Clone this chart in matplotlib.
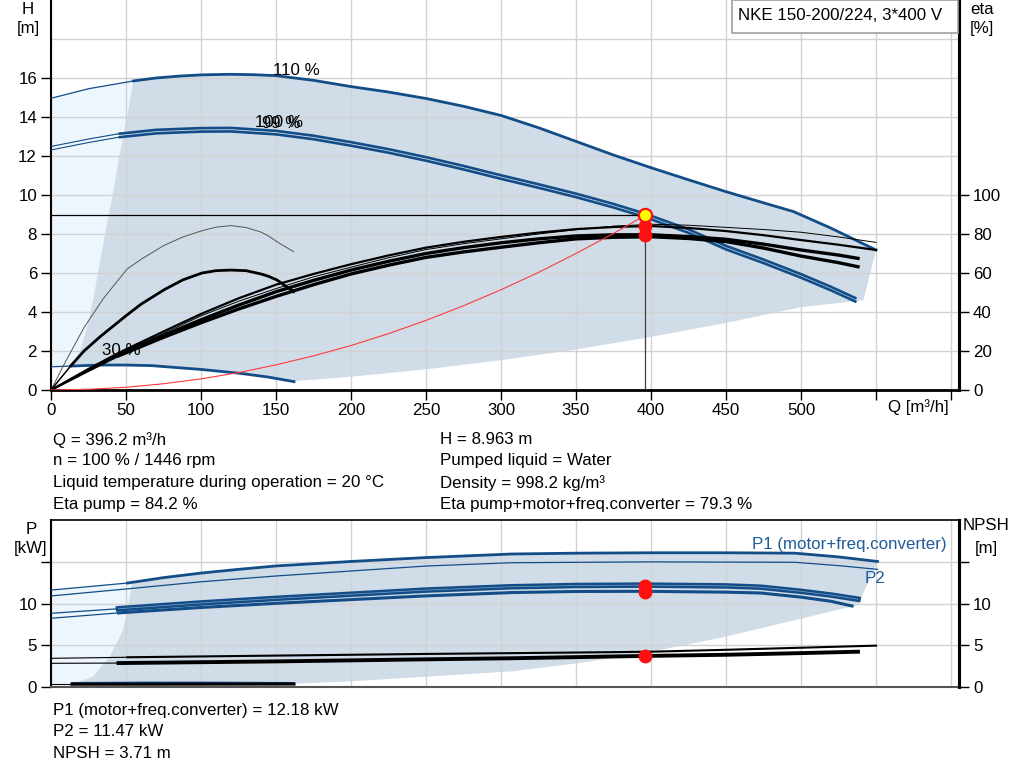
import matplotlib
matplotlib.use("Agg")
import matplotlib.pyplot as plt
from matplotlib.patches import Rectangle

plt.rcParams['font.family'] = ['Liberation Sans', 'DejaVu Sans']

# ---------------- data ----------------
# operating point
OP_Q, OP_H = 396.2, 8.963
ETA_PUMP, ETA_TOT = 84.2, 79.3
OP_P1, OP_P2, OP_NPSH = 12.18, 11.47, 3.71

# head curves (Q m3/h, H m)
H110_ext_Q = [0, 25, 55]
H110_ext_H = [14.96, 15.45, 15.85]
H110_Q = [55, 70, 86, 100, 119, 135, 150, 175, 200, 225, 250, 275, 300, 325, 350, 375,
          400, 425, 450, 475, 495, 520, 550]
H110_H = [15.85, 16.0, 16.1, 16.16, 16.19, 16.17, 16.12, 15.88, 15.56, 15.28, 14.95, 14.55,
          14.08, 13.45, 12.75, 12.05, 11.4, 10.78, 10.17, 9.6, 9.15, 8.3, 7.18]

H100_Q = [0, 25, 45, 70, 86, 100, 120, 150, 175, 200, 225, 250, 275, 300, 325, 350, 375,
          396.2, 425, 450, 475, 500, 520, 537]
H100a_H = [12.49, 12.87, 13.14, 13.34, 13.39, 13.43, 13.44, 13.29, 13.04, 12.71, 12.35, 11.94,
           11.49, 11.01, 10.55, 10.07, 9.54, 9.04, 8.24, 7.39, 6.69, 5.94, 5.29, 4.69]
H100b_H = [12.31, 12.69, 12.96, 13.16, 13.21, 13.25, 13.26, 13.11, 12.86, 12.53, 12.17, 11.76,
           11.31, 10.83, 10.37, 9.89, 9.36, 8.86, 8.06, 7.21, 6.51, 5.76, 5.11, 4.51]

H30_Q = [0, 14, 33, 50, 67, 100.7, 126.7, 145, 162]
H30_H = [1.19, 1.23, 1.28, 1.28, 1.25, 1.05, 0.85, 0.66, 0.43]

# shaded area boundaries (top panel)
SH_low_Q = [541.6, 500, 450, 400, 350, 300, 250, 200, 162]
SH_low_H = [4.6, 4.25, 3.44, 2.72, 2.08, 1.53, 1.06, 0.68, 0.45]
SH_left_Q = [13.8, 19.6, 24, 28, 32, 36, 41, 45.5, 50.6, 55]
SH_left_H = [1.2, 2.05, 3.2, 4.6, 6.3, 8.0, 10.0, 12.0, 14.0, 15.85]

# efficiency curves (eta %)
ETA_Q = [0, 25, 45, 75, 100, 125, 150, 175, 200, 225, 250, 275, 300, 325, 350, 375, 400,
         425, 450, 475, 500, 525, 550]
ETA1 = [0, 10.5, 18.5, 29, 38, 45.5, 52, 58, 63, 67.8, 72, 75, 77.5, 80, 82.2, 84, 85,
        84.5, 83.4, 82.3, 80.9, 78.5, 75.7]
ETA2 = [0, 10.8, 19, 30, 39, 47, 54, 59.5, 64.5, 69, 73, 76, 78.5, 80.7, 82.5, 83.6, 84.1,
        83.1, 81.5, 79.4, 76.9, 74.5, 71.8]
ETA_Q34 = [0, 25, 45, 75, 100, 125, 150, 175, 200, 225, 250, 275, 300, 325, 350, 375, 400,
           425, 450, 475, 500, 525, 538]
ETA3 = [0, 10.2, 18, 28, 36, 43.5, 50.4, 56.2, 61.5, 66, 70, 73, 75.5, 77.5, 79, 79.6, 79.6,
        78.7, 77.3, 74.8, 71.8, 69.2, 67.5]
ETA4 = [0, 9.8, 17.5, 27, 34.5, 41.5, 48, 54, 59.5, 64, 68, 70.8, 73.2, 75.5, 77.5, 78.3, 78.6,
        77.7, 76.1, 72.8, 68.7, 65.3, 63.2]

ETA30a_Q = [0, 10, 22, 35, 50.7, 60, 75, 88, 100.7, 110, 120, 130, 140, 145, 150.7, 161.8]
ETA30a = [0, 15, 32, 47, 62, 67, 74, 78.5, 81.7, 83.5, 84.3, 83.3, 81, 79, 76, 70.9]
ETA30b_Q = [0, 13.3, 22, 33, 50.7, 60, 75.6, 88, 100.7, 110, 120, 130, 140, 145, 150.7, 161.8]
ETA30b = [0, 12.5, 20, 27.5, 38.5, 44, 51.5, 56.5, 60, 61.2, 61.5, 61.2, 59.5, 58.3, 56.4, 50.4]

# system curve
SYS_Q = [0, 25, 50, 75, 100, 125, 150, 175, 200, 225, 250, 275, 300, 325, 350, 375, 396.2]
SYS_H = [0, 0.036, 0.14, 0.32, 0.57, 0.89, 1.29, 1.75, 2.28, 2.89, 3.57, 4.32, 5.14, 6.03,
         7.0, 8.03, 8.963]

# power curves (kW)
P1_110_ext_Q = [0, 51]
P1_110_ext = [11.65, 12.5]
P1_110_Q = [51, 75, 100, 125, 150, 200, 250, 307, 350, 400, 450, 496, 525, 551]
P1_110 = [12.5, 13.15, 13.7, 14.15, 14.56, 15.1, 15.57, 16.0, 16.1, 16.15, 16.15, 16.1, 15.65, 15.1]
P2_110_Q = [0, 51, 100, 150, 200, 250, 307, 400, 496, 525, 551]
P2_110 = [10.94, 11.8, 12.65, 13.35, 13.95, 14.55, 14.95, 15.05, 15.0, 14.6, 14.15]

P1_100_Q = [0, 45, 100, 150, 200, 250, 307, 350, 396.2, 450, 473, 500, 520, 538]
P1_100 = [8.85, 9.4, 10.1, 10.65, 11.15, 11.65, 12.05, 12.2, 12.25, 12.15, 12.0, 11.5, 11.05, 10.55]
P2_100_Q = [0, 45, 100, 150, 200, 250, 307, 350, 396.2, 450, 473, 500, 520, 534]
P2_100 = [8.25, 8.9, 9.55, 10.05, 10.5, 10.95, 11.35, 11.48, 11.5, 11.4, 11.3, 10.8, 10.3, 9.73]

P30_Q = [14, 60, 100, 162]
P1_30 = [0.45, 0.5, 0.5, 0.45]
P2_30 = [0.3, 0.3, 0.31, 0.32]

PSH_low_Q = [538, 500, 449, 400, 350, 307, 250, 200, 162]
PSH_low = [9.85, 8.2, 6.0, 4.2, 2.8, 1.85, 1.2, 0.65, 0.35]
PSH_left_Q = [14, 28, 39, 48, 51.3, 54]
PSH_left = [0.35, 1.2, 3.6, 6.8, 9.65, 12.55]

# NPSH curves (m)
N1_Q = [0, 51, 150, 250, 350, 400, 450, 500, 550]
N1 = [3.42, 3.55, 3.75, 3.95, 4.12, 4.22, 4.45, 4.7, 4.95]
N2_Q = [0, 45, 150, 250, 307, 396.2, 450, 500, 538]
N2 = [2.82, 2.85, 3.05, 3.3, 3.43, 3.71, 3.85, 4.05, 4.22]

Q_TICKS = [0, 50, 100, 150, 200, 250, 300, 350, 400, 450, 500, 550, 600]
Q_LABELS = ['0', '50', '100', '150', '200', '250', '300', '350', '400', '450', '500', '', '']
H_TICKS = [0, 2, 4, 6, 8, 10, 12, 14, 16]
ETA_TICKS = [0, 20, 40, 60, 80, 100]
P_TICKS = [0, 5, 10, 15]
P_LABELS = ['0', '5', '10', '']

# ---------------- style ----------------
BLUE = '#124d88'
SHADE = '#d0dce8'
LIGHT = '#edf5fd'
GRID = '#d2d2d2'
FS = 12.2

W, H = 1024, 781
fig = plt.figure(figsize=(W / 100, H / 100), dpi=100)

def fx(x):
    return x / W

def fy(y):
    return 1 - y / H

ax = fig.add_axes([fx(51), fy(390), 908 / W, 390 / H])
axb = fig.add_axes([fx(51), fy(686.7), 908 / W, 166.7 / H])
QMAX = 908 / 1.5

def sub(qs, vs, lo, hi):
    out = [(q, v) for q, v in zip(qs, vs) if lo <= q <= hi]
    return [p[0] for p in out], [p[1] for p in out]

# ---------------- top panel ----------------
ax.set_xlim(0, QMAX)
ax.set_ylim(0, 20)

lq = [0] + H110_ext_Q + SH_left_Q[::-1] + [0]
lh = [1.2] + H110_ext_H + SH_left_H[::-1] + [1.2]
ax.fill(lq, lh, color=LIGHT, lw=0, zorder=0.2)
h30q, h30h = sub(H30_Q, H30_H, 14, 162)
dq = H110_Q + SH_low_Q + h30q[::-1] + SH_left_Q
dh = H110_H + SH_low_H + h30h[::-1] + SH_left_H
ax.fill(dq, dh, color=SHADE, lw=0, zorder=0.3)

ax.set_xticks(Q_TICKS)
ax.set_xticklabels(Q_LABELS)
ax.set_yticks(H_TICKS)
ax.grid(True, color=GRID, lw=1)
ax.axhline(18, color=GRID, lw=1, zorder=0.5)
ax.set_axisbelow(True)
ax.tick_params(axis='both', labelsize=FS, length=7, width=1, direction='out', pad=3)
ax.tick_params(axis='x', pad=2)
ax.spines['top'].set_visible(False)
ax.spines['left'].set_linewidth(1.5)
ax.spines['bottom'].set_linewidth(2)
ax.spines['right'].set_linewidth(2.2)

# head curves
ax.plot(H110_ext_Q, H110_ext_H, color=BLUE, lw=0.9, zorder=3)
ax.plot(H110_Q, H110_H, color=BLUE, lw=2.0, zorder=3)
for hv in (H100a_H, H100b_H):
    q1, h1 = sub(H100_Q, hv, 0, 45)
    ax.plot(q1, h1, color=BLUE, lw=0.8, zorder=3)
    q2, h2 = sub(H100_Q, hv, 45, 540)
    ax.plot(q2, h2, color=BLUE, lw=1.9, zorder=3, solid_capstyle='butt')
q1, h1 = sub(H30_Q, H30_H, 0, 14)
ax.plot(q1, h1, color=BLUE, lw=0.9, zorder=3)
ax.plot(h30q, h30h, color=BLUE, lw=2.0, zorder=3)

# efficiency curves (eta/10 on the H scale)
def e(v):
    return [x / 10 for x in v]

ax.plot(ETA_Q, e(ETA1), color='black', lw=0.7, zorder=4)
ax.plot(ETA_Q, e(ETA2), color='black', lw=1.6, zorder=4)
for ev, lw0 in ((ETA3, 0.7), (ETA4, 1.6)):
    q1, h1 = sub(ETA_Q34, ev, 0, 45)
    ax.plot(q1, e(h1), color='black', lw=lw0, zorder=4)
    q2, h2 = sub(ETA_Q34, ev, 45, 540)
    ax.plot(q2, e(h2), color='black', lw=2.4, zorder=4)
ax.plot(ETA30a_Q, e(ETA30a), color='#555555', lw=0.7, zorder=4)
q1, h1 = sub(ETA30b_Q, ETA30b, 0, 13.3)
ax.plot(q1, e(h1), color='black', lw=1.1, zorder=4)
q2, h2 = sub(ETA30b_Q, ETA30b, 13.3, 170)
ax.plot(q2, e(h2), color='black', lw=2.0, zorder=4)

# system curve & operating point
ax.plot(SYS_Q, SYS_H, color='#ff3b3b', lw=0.8, zorder=4.5)
ax.plot([0, OP_Q], [OP_H, OP_H], color='black', lw=0.9, zorder=4.6)
ax.plot([OP_Q, OP_Q], [0, OP_H], color='#404040', lw=0.9, zorder=4.6)
ax.plot([OP_Q, OP_Q], [ETA_TOT / 10, ETA_PUMP / 10], 'o', color='#ff1010', ms=9,
        mec='#ff1010', zorder=5)
ax.plot([OP_Q], [OP_H], 'o', color='#ffff00', ms=9.5, mec='#ff1010', mew=1.6, zorder=6)

# curve labels
ax.text(148, 16.36, '110 %', fontsize=FS, va='center', ha='left', zorder=7)
ax.text(136, 13.74, '100 %', fontsize=FS, va='center', ha='left', zorder=7)
ax.text(140.5, 13.66, '99 %', fontsize=FS, va='center', ha='left', zorder=7)
ax.text(34, 2.05, '30 %', fontsize=FS, va='center', ha='left', zorder=7)

# eta axis
axr = ax.twinx()
axr.set_ylim(0, 200)
axr.set_yticks(ETA_TICKS)
axr.tick_params(axis='y', labelsize=FS, length=7, width=1, pad=3)
for s in ['top', 'left', 'bottom']:
    axr.spines[s].set_visible(False)
axr.spines['right'].set_linewidth(2.2)

# ---------------- bottom panel ----------------
axb.set_xlim(0, QMAX)
axb.set_ylim(0, 20.1)
blq = [0] + P1_110_ext_Q + PSH_left_Q[::-1] + [0]
blp = [0.35] + P1_110_ext + PSH_left[::-1] + [0.35]
axb.fill(blq, blp, color=LIGHT, lw=0, zorder=0.2)
bdq = P1_110_Q + PSH_low_Q + P30_Q[::-1] + PSH_left_Q
bdp = P1_110 + PSH_low + P2_30[::-1] + PSH_left
axb.fill(bdq, bdp, color=SHADE, lw=0, zorder=0.3)

axb.set_xticks(Q_TICKS)
axb.set_yticks(P_TICKS)
axb.set_yticklabels(P_LABELS)
axb.grid(True, color=GRID, lw=1)
axb.set_axisbelow(True)
axb.tick_params(axis='x', length=0, labelbottom=False)
axb.tick_params(axis='y', labelsize=FS, length=7, width=1, pad=3)
axb.spines['top'].set_linewidth(1.2)
axb.spines['left'].set_linewidth(1.5)
axb.spines['bottom'].set_linewidth(1.5)
axb.spines['bottom'].set_color('#555555')
axb.spines['right'].set_linewidth(2.2)

axb.plot(P1_110_ext_Q, P1_110_ext, color=BLUE, lw=0.9, zorder=3)
axb.plot(P1_110_Q, P1_110, color=BLUE, lw=2.0, zorder=3)
axb.plot(P2_110_Q, P2_110, color=BLUE, lw=0.9, zorder=3)
for qv, pv, lwb in ((P1_100_Q, P1_100, 4.0), (P2_100_Q, P2_100, 2.2)):
    q1, p1 = sub(qv, pv, 0, 45)
    axb.plot(q1, p1, color=BLUE, lw=0.9, zorder=3)
    q2, p2 = sub(qv, pv, 45, 540)
    axb.plot(q2, p2, color=BLUE, lw=lwb, zorder=3)
q2, p2 = sub(P1_100_Q, P1_100, 45, 540)
axb.plot(q2, p2, color='#7e9fc2', lw=0.5, zorder=3.1)
axb.plot([0, 14], [0.3, 0.3], color='black', lw=0.8, zorder=3)
axb.plot(P30_Q, P1_30, color=BLUE, lw=1.4, zorder=3)
axb.plot(P30_Q, P2_30, color='black', lw=2.2, zorder=3.2)

q1, n1 = sub(N1_Q, N1, 0, 51)
axb.plot(q1, n1, color='black', lw=0.8, zorder=4)
q2, n2 = sub(N1_Q, N1, 51, 560)
axb.plot(q2, n2, color='black', lw=1.5, zorder=4)
q1, n1 = sub(N2_Q, N2, 0, 45)
axb.plot(q1, n1, color='black', lw=0.8, zorder=4)
q2, n2 = sub(N2_Q, N2, 45, 560)
axb.plot(q2, n2, color='black', lw=2.8, zorder=4)

axb.plot([OP_Q, OP_Q, OP_Q], [OP_P1, OP_P2, OP_NPSH], 'o', color='#ff1010', ms=9, zorder=6)
axb.text(467.3, 17.1, 'P1 (motor+freq.converter)', color='#1f5c99', fontsize=FS,
         va='center', ha='left', zorder=7)
axb.text(542.7, 13.0, 'P2', color='#1f5c99', fontsize=FS, va='center', ha='left', zorder=7)

axbr = axb.twinx()
axbr.set_ylim(0, 20.1)
axbr.set_yticks(P_TICKS)
axbr.set_yticklabels(P_LABELS)
axbr.tick_params(axis='y', labelsize=FS, length=7, width=1, pad=3)
for s in ['top', 'left', 'bottom']:
    axbr.spines[s].set_visible(False)
axbr.spines['right'].set_linewidth(2.2)

# ---------------- figure texts ----------------
def t(x, y, s, ha='left', **kw):
    fig.text(fx(x), fy(y), s, ha=ha, va='center', fontsize=FS, **kw)

t(28, 9, 'H', ha='center')
t(28, 29, '[m]', ha='center')
t(982, 9, 'eta', ha='center')
t(982, 29, '[%]', ha='center')
t(888, 407, 'Q [m³/h]')
t(31, 530, 'P', ha='center')
t(31, 549, '[kW]', ha='center')
t(986, 526, 'NPSH', ha='center')
t(986, 549, '[m]', ha='center')

fig.patches.append(Rectangle((fx(732), fy(33)), 226 / W, 33 / H, transform=fig.transFigure,
                             facecolor='white', edgecolor='#a0a0a0', lw=1.2, zorder=10))
t(738, 15, 'NKE 150-200/224, 3*400 V', zorder=11)

left_lines = ['Q = 396.2 m³/h', 'n = 100 % / 1446 rpm',
              'Liquid temperature during operation = 20 °C', 'Eta pump = 84.2 %']
right_lines = ['H = 8.963 m', 'Pumped liquid = Water', 'Density = 998.2 kg/m³',
               'Eta pump+motor+freq.converter = 79.3 %']
for i, (a, b) in enumerate(zip(left_lines, right_lines)):
    yy = [440, 461, 483, 505][i]
    t(53, yy, a)
    t(440, yy, b)
for i, s in enumerate(['P1 (motor+freq.converter) = 12.18 kW', 'P2 = 11.47 kW', 'NPSH = 3.71 m']):
    t(53, [711, 732, 753][i], s)

fig.savefig('out.png', dpi=100)
